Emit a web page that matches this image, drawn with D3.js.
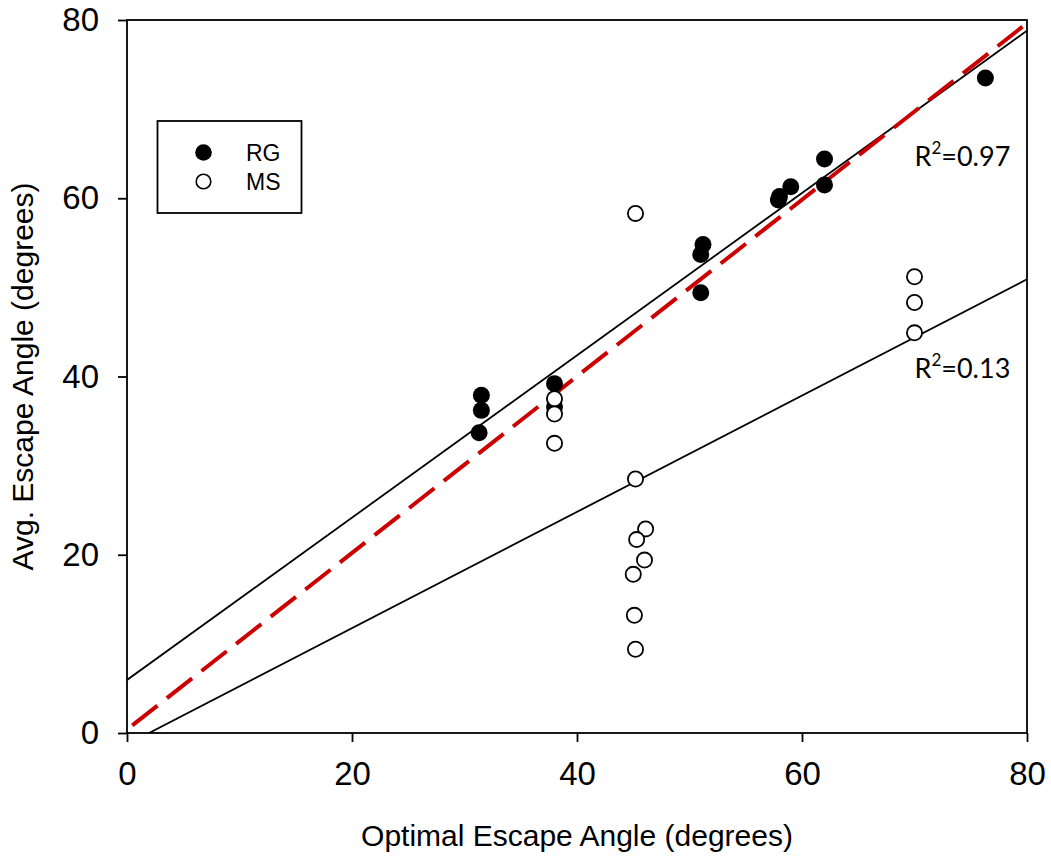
<!DOCTYPE html>
<html>
<head>
<meta charset="utf-8">
<script src="https://cdn.jsdelivr.net/npm/d3@7"></script>
<style>
  html, body { margin: 0; padding: 0; background: #fff; }
  svg { display: block; }
</style>
</head>
<body>
<svg id="chart" width="1051" height="858"></svg>
<script>
// Axis ticks
const xTicks = [0, 20, 40, 60, 80];
const yTicks = [0, 20, 40, 60, 80];

// RG group: optimal vs. average escape angle (degrees)
const rgX = [31.5, 31.5, 31.3, 38.0, 38.0, 51.2, 51.0, 51.0, 58.0, 57.9, 59.0, 62.0, 62.0, 76.3];
const rgY = [37.9, 36.2, 33.7, 39.2, 36.6, 54.8, 53.7, 49.4, 60.2, 59.8, 61.3, 64.4, 61.5, 73.5];

// MS group
const msX = [38.0, 38.0, 38.0, 45.2, 45.2, 46.1, 45.3, 46.0, 45.0, 45.1, 45.2, 70.0, 70.0, 70.0];
const msY = [37.5, 35.8, 32.5, 58.3, 28.5, 22.9, 21.7, 19.4, 17.8, 13.2, 9.4, 51.2, 48.3, 44.9];

// Fitted lines (end points) and the dashed reference line
const rgFitX = [0, 80];
const rgFitY = [5.95, 78.8];
const msFitX = [1.96, 80];
const msFitY = [0, 50.9];
const refX = [0.47, 79.6];
const refY = [0.86, 79.25];

// R² annotations
const r2Labels = ["0.97", "0.13"];
const r2PosX = [70.0, 70.0];
const r2PosY = [63.65, 39.8];

// Legend entries
const legendNames = ["RG", "MS"];

const svg = d3.select("#chart");
const m = { left: 127, right: 1027, top: 20, bottom: 733 };

const x = d3.scaleLinear().domain([0, 80]).range([m.left, m.right]);
const y = d3.scaleLinear().domain([0, 80]).range([m.bottom, m.top]);

const tickFont = "'Liberation Sans', Arial, sans-serif";

// Axes
const xAxis = svg.append("g")
  .attr("transform", `translate(0,${m.bottom})`)
  .call(d3.axisBottom(x).tickValues(xTicks).tickSize(9).tickSizeOuter(0).tickPadding(20));
const yAxis = svg.append("g")
  .attr("transform", `translate(${m.left},0)`)
  .call(d3.axisLeft(y).tickValues(yTicks).tickSize(9).tickSizeOuter(0).tickPadding(19));

[xAxis, yAxis].forEach(g => {
  g.select(".domain").remove();
  g.selectAll(".tick line").attr("stroke", "#000").attr("stroke-width", 1.8);
  g.selectAll(".tick text")
    .attr("fill", "#000")
    .style("font-family", tickFont)
    .style("font-size", "33px");
});
xAxis.selectAll(".tick text").attr("dy", "0.71em");

// Plot frame
svg.append("rect")
  .attr("x", x(0)).attr("y", y(80))
  .attr("width", x(80) - x(0)).attr("height", y(0) - y(80))
  .attr("fill", "none").attr("stroke", "#000").attr("stroke-width", 1.8);

// Axis titles
svg.append("text")
  .attr("x", (x(0) + x(80)) / 2).attr("y", 846)
  .attr("text-anchor", "middle")
  .style("font-family", tickFont).style("font-size", "30px")
  .text("Optimal Escape Angle (degrees)");
svg.append("text")
  .attr("transform", `translate(33,${(y(0) + y(80)) / 2}) rotate(-90)`)
  .attr("text-anchor", "middle")
  .style("font-family", tickFont).style("font-size", "30px")
  .text("Avg. Escape Angle (degrees)");

// Clip region for the plot
svg.append("clipPath").attr("id", "plotClip")
  .append("rect")
  .attr("x", x(0)).attr("y", y(80))
  .attr("width", x(80) - x(0)).attr("height", y(0) - y(80));

const line = d3.line().x(d => x(d[0])).y(d => y(d[1]));
const plot = svg.append("g").attr("clip-path", "url(#plotClip)");

// Regression lines
plot.append("path")
  .attr("d", line(d3.zip(rgFitX, rgFitY)))
  .attr("fill", "none").attr("stroke", "#000").attr("stroke-width", 1.8);
plot.append("path")
  .attr("d", line(d3.zip(msFitX, msFitY)))
  .attr("fill", "none").attr("stroke", "#000").attr("stroke-width", 1.8);

// Points
svg.append("g").selectAll("circle")
  .data(d3.zip(rgX, rgY))
  .join("circle")
  .attr("cx", d => x(d[0])).attr("cy", d => y(d[1]))
  .attr("r", 8.5).attr("fill", "#000");

svg.append("g").selectAll("circle")
  .data(d3.zip(msX, msY))
  .join("circle")
  .attr("cx", d => x(d[0])).attr("cy", d => y(d[1]))
  .attr("r", 7.6).attr("fill", "#fff").attr("stroke", "#000").attr("stroke-width", 1.8);

// Dashed reference line
plot.append("path")
  .attr("d", line(d3.zip(refX, refY)))
  .attr("fill", "none").attr("stroke", "#cc0000").attr("stroke-width", 4)
  .attr("stroke-dasharray", "32,12");

// R² labels
const r2 = svg.append("g")
  .style("font-family", "Lato, 'Open Sans', sans-serif")
  .style("font-size", "27px");
r2Labels.forEach((lab, i) => {
  const t = r2.append("text").attr("x", x(r2PosX[i])).attr("y", y(r2PosY[i]));
  t.append("tspan").text("R");
  t.append("tspan").attr("dy", -12).style("font-size", "17px").text("2");
  t.append("tspan").attr("dy", 12).text("=" + lab);
});

// Legend
const leg = svg.append("g");
leg.append("rect")
  .attr("x", 157.5).attr("y", 121).attr("width", 144).attr("height", 92)
  .attr("fill", "#fff").attr("stroke", "#000").attr("stroke-width", 1.8);
legendNames.forEach((name, i) => {
  const cy = 152.5 + i * 29;
  const c = leg.append("circle").attr("cx", 203.5).attr("cy", cy);
  if (i === 0) c.attr("r", 8.3).attr("fill", "#000");
  else c.attr("r", 7.3).attr("fill", "#fff").attr("stroke", "#000").attr("stroke-width", 1.6);
  leg.append("text")
    .attr("x", 246).attr("y", cy + 8.5)
    .style("font-family", tickFont).style("font-size", "23px")
    .text(name);
});
</script>
</body>
</html>
